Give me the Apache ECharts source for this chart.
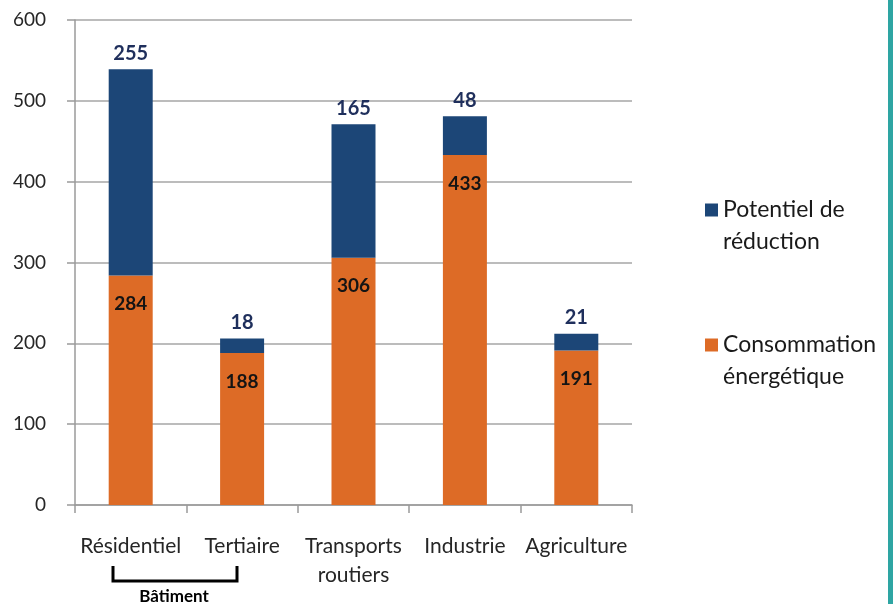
<!DOCTYPE html>
<html><head><meta charset="utf-8">
<script src="https://cdn.jsdelivr.net/npm/echarts@6/dist/echarts.min.js"></script>
<style>html,body{margin:0;padding:0;background:#fff}#c{width:893px;height:604px}</style>
</head><body><div id="c"></div>
<script>
const categories = ['Résidentiel', 'Tertiaire', 'Transports\nroutiers', 'Industrie', 'Agriculture'];
const consommation = [284, 188, 306, 433, 191];
const potentiel = [255, 18, 165, 48, 21];
const yTicks = {min: 0, max: 600, interval: 100};

const FONT = 'Lato';
const chart = echarts.init(document.getElementById('c'));
chart.setOption({
  animation: false,
  backgroundColor: '#ffffff',
  grid: {left: 75, right: 261, top: 20, bottom: 99},
  legend: {
    orient: 'vertical', left: 705, top: 162, padding: 0,
    itemWidth: 13, itemHeight: 13, itemGap: 39,
    icon: 'rect',
    data: ['Potentiel de\nréduction', 'Consommation\nénergétique'],
    formatter: function (n) { return '\n' + n; },
    textStyle: {fontFamily: FONT, fontSize: 23, color: '#1a1a1a', lineHeight: 32}
  },
  xAxis: {
    type: 'category', data: categories,
    axisLine: {lineStyle: {color: '#9a9a9a', width: 1.5}},
    axisTick: {show: true, length: 8, lineStyle: {color: '#9a9a9a', width: 1.5}},
    axisLabel: {fontFamily: FONT, fontSize: 21, color: '#262626', lineHeight: 29, margin: 27, interval: 0}
  },
  yAxis: {
    type: 'value', min: yTicks.min, max: yTicks.max, interval: yTicks.interval,
    axisLine: {show: true, lineStyle: {color: '#9a9a9a', width: 1.5}},
    axisTick: {show: true, length: 8, lineStyle: {color: '#9a9a9a', width: 1.5}},
    splitLine: {lineStyle: {color: '#a6a6a6', width: 1.5}},
    axisLabel: {fontFamily: FONT, fontSize: 19, color: '#262626', margin: 29}
  },
  series: [
    {
      name: 'Consommation\nénergétique', type: 'bar', stack: 'a', data: consommation,
      barWidth: 44, itemStyle: {color: '#dd6b26'},
      label: {show: true, position: 'insideTop', distance: 19, fontFamily: FONT, fontSize: 19, fontWeight: 'bold', color: '#141414'}
    },
    {
      name: 'Potentiel de\nréduction', type: 'bar', stack: 'a', data: potentiel,
      barWidth: 44, itemStyle: {color: '#1c4677'},
      label: {show: true, position: 'top', distance: 6, fontFamily: FONT, fontSize: 20, fontWeight: 'bold', color: '#1f2f5c'}
    }
  ],
  graphic: [
    {type: 'polyline', shape: {points: [[113, 566], [113, 581], [237, 581], [237, 566]]},
     style: {stroke: '#000', lineWidth: 3, fill: null}},
    {type: 'text', x: 174, y: 597, style: {text: 'Bâtiment', font: 'bold 17px ' + FONT, fill: '#000', align: 'center', verticalAlign: 'middle'}},
    {type: 'rect', shape: {x: 888, y: 0, width: 5, height: 604}, style: {fill: '#2ea5a3'}}
  ]
});
</script></body></html>
